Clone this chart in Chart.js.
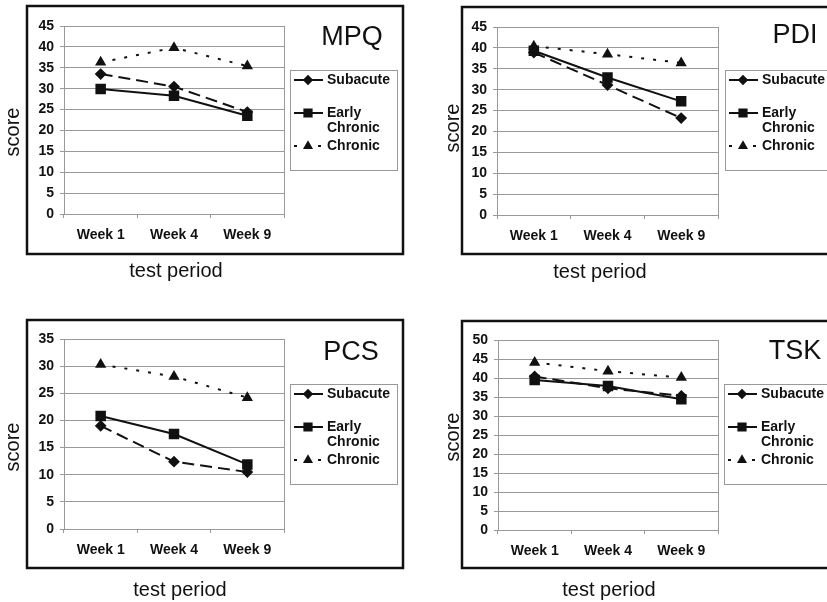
<!DOCTYPE html>
<html>
<head>
<meta charset="utf-8">
<script src="https://cdn.jsdelivr.net/npm/chart.js@4.4.1/dist/chart.umd.min.js"></script>
<style>
  body { margin: 0; background: #fff; }
  canvas { position: absolute; }
</style>
</head>
<body>
<canvas id="mpq" width="414" height="301" style="left:0;top:0"></canvas>
<canvas id="pdi" width="413" height="301" style="left:414px;top:0"></canvas>
<canvas id="pcs" width="414" height="301" style="left:0;top:301px"></canvas>
<canvas id="tsk" width="413" height="301" style="left:414px;top:301px"></canvas>
<script>
const weeks = ['Week 1', 'Week 4', 'Week 9']

const mpqSubacute = [33.5, 30.5, 24.4]
const mpqEarly = [29.9, 28.3, 23.5]
const mpqChronic = [36.3, 39.8, 35.4]

const pdiSubacute = [38.9, 31.1, 23.2]
const pdiEarly = [39.3, 32.9, 27.2]
const pdiChronic = [40.4, 38.5, 36.4]

const pcsSubacute = [19.0, 12.4, 10.5]
const pcsEarly = [20.8, 17.5, 11.9]
const pcsChronic = [30.3, 28.1, 24.2]

const tskSubacute = [40.4, 37.3, 35.3]
const tskEarly = [39.5, 37.9, 34.4]
const tskChronic = [44.1, 41.8, 40.1]

const yMax = { mpq: 45, pdi: 45, pcs: 35, tsk: 50 }
const legendText = [['Subacute'], ['Early', 'Chronic'], ['Chronic']]

const FONT = "'Liberation Sans', Arial, sans-serif"
const INK = '#111'
const GRID = '#999'

// panel geometry (canvas-relative pixels)
const panels = [
  { id: 'mpq', name: 'MPQ', data: [mpqSubacute, mpqEarly, mpqChronic],
    plot: [64, 284, 26, 214], box: [27, 6, 403, 254], legend: [290, 70, 397, 170],
    title: [352, 38], score: [13, 132], period: [176, 271] },
  { id: 'pdi', name: 'PDI', data: [pdiSubacute, pdiEarly, pdiChronic],
    plot: [83, 304, 27, 215], box: [48, 7, 430, 254], legend: [311, 70, 430, 170],
    title: [381, 36], score: [39, 128], period: [186, 272] },
  { id: 'pcs', name: 'PCS', data: [pcsSubacute, pcsEarly, pcsChronic],
    plot: [64, 284, 38, 228], box: [27, 19, 403, 267], legend: [290, 83, 397, 183],
    title: [351, 52], score: [13, 146], period: [180, 289] },
  { id: 'tsk', name: 'TSK', data: [tskSubacute, tskEarly, tskChronic],
    plot: [84, 304, 39, 229], box: [48, 20, 430, 267], legend: [310, 83, 430, 183],
    title: [381, 51], score: [39, 136], period: [195, 289] }
]

const panelDecor = {
  id: 'panelDecor',
  afterDraw(chart, args, opts) {
    const ctx = chart.ctx
    const g = opts.geo
    const area = chart.chartArea
    ctx.save()

    // right edge of plot area
    ctx.strokeStyle = GRID
    ctx.lineWidth = 1
    ctx.beginPath()
    ctx.moveTo(area.right + 0.5, area.top)
    ctx.lineTo(area.right + 0.5, area.bottom)
    ctx.stroke()

    // outer frame
    ctx.strokeStyle = INK
    ctx.lineWidth = 2.5
    ctx.strokeRect(g.box[0], g.box[1], g.box[2] - g.box[0], g.box[3] - g.box[1])

    // panel title
    ctx.fillStyle = INK
    ctx.textAlign = 'center'
    ctx.textBaseline = 'middle'
    ctx.font = '27px ' + FONT
    ctx.fillText(g.name, g.title[0], g.title[1])

    // axis titles
    ctx.font = '20px ' + FONT
    ctx.fillText('test period', g.period[0], g.period[1])
    ctx.save()
    ctx.translate(g.score[0], g.score[1])
    ctx.rotate(-Math.PI / 2)
    ctx.font = '20px ' + FONT
    ctx.fillText('score', 0, 0)
    ctx.restore()

    // legend box
    const L = g.legend
    ctx.fillStyle = '#fff'
    ctx.fillRect(L[0], L[1], L[2] - L[0], L[3] - L[1])
    ctx.strokeStyle = GRID
    ctx.lineWidth = 1
    ctx.strokeRect(L[0] + 0.5, L[1] + 0.5, L[2] - L[0], L[3] - L[1])

    const rows = [10, 43, 76]
    ctx.font = 'bold 14px ' + FONT
    ctx.textAlign = 'left'
    chart.data.datasets.forEach((ds, i) => {
      const y = L[1] + rows[i]
      ctx.strokeStyle = INK
      ctx.fillStyle = INK
      ctx.lineWidth = 2
      ctx.setLineDash(ds.borderDash || [])
      ctx.beginPath()
      ctx.moveTo(L[0] + 4, y)
      ctx.lineTo(L[0] + 33, y)
      ctx.stroke()
      ctx.setLineDash([])
      Chart.helpers.drawPoint(ctx, { pointStyle: ds.pointStyle, radius: ds.pointRadius * 0.85, rotation: 0, borderWidth: 1 }, L[0] + 18, y)
      legendText[i].forEach((t, k) => ctx.fillText(t, L[0] + 37, y + k * 15))
    })
    ctx.restore()
  }
}

function buildChart(p) {
  const canvas = document.getElementById(p.id)
  const W = canvas.width
  const H = canvas.height
  const Y_W = 50
  const X_H = 40
  const styles = [
    { borderDash: [12, 6], pointStyle: 'rectRot', pointRadius: 4.5 },
    { borderDash: [], pointStyle: 'rect', pointRadius: 6 },
    { borderDash: [3, 9], pointStyle: 'triangle', pointRadius: 4.5 }
  ]
  const datasets = p.data.map((vals, i) => Object.assign({
    label: legendText[i].join(' '),
    data: vals,
    borderColor: INK,
    backgroundColor: INK,
    pointBackgroundColor: INK,
    pointBorderColor: INK,
    borderWidth: 2,
    tension: 0,
    fill: false
  }, styles[i]))

  return new Chart(canvas.getContext('2d'), {
    type: 'line',
    data: { labels: weeks, datasets: datasets },
    options: {
      responsive: false,
      animation: false,
      layout: {
        padding: {
          left: p.plot[0] - Y_W,
          right: W - p.plot[1],
          top: p.plot[2],
          bottom: H - p.plot[3] - X_H
        }
      },
      scales: {
        x: {
          offset: true,
          grid: { offset: true, drawOnChartArea: false, drawTicks: true, tickLength: 4, color: GRID },
          border: { color: GRID },
          ticks: { color: INK, padding: 9, font: { family: FONT, size: 14, weight: 'bold' } },
          afterFit: s => { s.height = X_H }
        },
        y: {
          min: 0,
          max: yMax[p.id],
          grid: { color: GRID, tickLength: 4 },
          border: { color: GRID },
          ticks: { stepSize: 5, autoSkip: false, color: INK, padding: 6, font: { family: FONT, size: 14, weight: 'bold' } },
          afterFit: s => { s.width = Y_W }
        }
      },
      plugins: {
        legend: { display: false },
        tooltip: { enabled: false },
        panelDecor: { geo: p }
      }
    },
    plugins: [panelDecor]
  })
}

panels.forEach(buildChart)
</script>
</body>
</html>
